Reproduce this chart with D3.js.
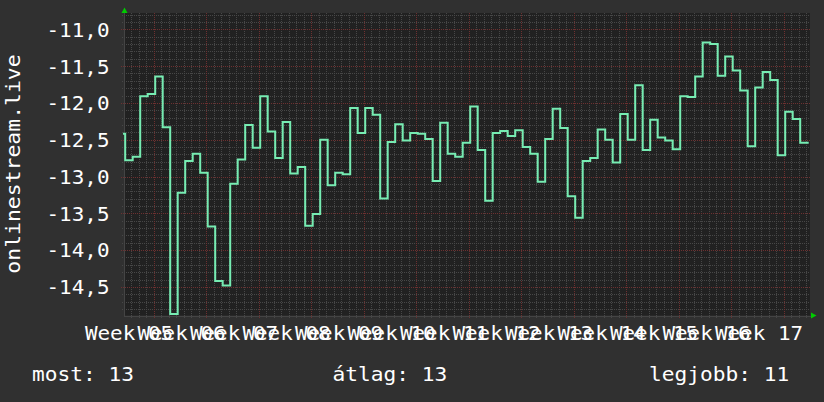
<!DOCTYPE html>
<html>
<head>
<meta charset="utf-8">
<script src="https://cdn.jsdelivr.net/npm/d3@7"></script>
<style>
  html, body { margin: 0; padding: 0; background: #303030; }
  svg { display: block; }
  text { font-family: "DejaVu Sans Mono", monospace; fill: #ffffff; }
</style>
</head>
<body>
<svg id="chart" width="824" height="402"></svg>
<script>
// ---- data ----
const seriesName = "onlinestream.live";
const weekLabels = ["Week 05","Week 06","Week 07","Week 08","Week 09","Week 10","Week 11",
                    "Week 12","Week 13","Week 14","Week 15","Week 16","Week 17"];
const yTickValues = [-11.0, -11.5, -12.0, -12.5, -13.0, -13.5, -14.0, -14.5];
// first value is the partial sample at the left edge, then one value per day
const values = [
  -12.42,
  -12.78, -12.73, -11.91, -11.88, -11.64, -12.33, -14.87, -13.22, -12.79, -12.69,
  -12.95, -13.68, -14.42, -14.48, -13.10, -12.77, -12.30, -12.61, -11.91, -12.39,
  -12.75, -12.26, -12.96, -12.87, -13.67, -13.51, -12.50, -13.12, -12.95, -12.97,
  -12.07, -12.41, -12.07, -12.16, -13.30, -12.53, -12.29, -12.51, -12.41, -12.42,
  -12.49, -13.06, -12.27, -12.69, -12.73, -12.54, -12.05, -12.64, -13.33, -12.41,
  -12.38, -12.45, -12.37, -12.60, -12.69, -13.07, -12.49, -12.08, -12.34, -13.27,
  -13.56, -12.79, -12.75, -12.36, -12.50, -12.81, -12.15, -12.50, -11.76, -12.64,
  -12.23, -12.47, -12.51, -12.63, -11.91, -11.92, -11.64, -11.18, -11.20, -11.63,
  -11.37, -11.56, -11.83, -12.59, -11.79, -11.58, -11.69, -12.71, -12.12, -12.22,
  -12.54
];
const legendItems = [
  { label: "most", value: "13" },
  { label: "átlag", value: "13" },
  { label: "legjobb", value: "11" }
];

// ---- layout ----
const plot = { left: 124, right: 810, top: 13, bottom: 315.5 };
const totalDays = 91.467;      // visible span in days
const sampleStart = 0.16;      // fraction of a day at which each daily sample begins
const firstWeekDay = 4;        // first week gridline (day index)
const advance = 12.6;          // stretched monospace advance

const svg = d3.select("#chart");

const x = d3.scaleLinear().domain([0, totalDays]).range([plot.left, plot.right]);
const y = d3.scaleLinear().domain([-14.889, -10.778]).range([plot.bottom, plot.top]);

// plot background
svg.append("rect")
  .attr("x", plot.left).attr("y", plot.top)
  .attr("width", plot.right - plot.left).attr("height", plot.bottom - plot.top)
  .attr("fill", "#212121");

const grid = svg.append("g").attr("shape-rendering", "crispEdges");

// minor horizontal grid (every 0.1)
const minorY = d3.range(-148, -107).map(k => k / 10).filter(v => Math.round(v * 10) % 5 !== 0);
grid.selectAll("line.my").data(minorY).join("line")
  .attr("x1", plot.left - 2).attr("x2", plot.right)
  .attr("y1", d => Math.round(y(d)) + 0.5).attr("y2", d => Math.round(y(d)) + 0.5)
  .attr("stroke", "#474747").attr("stroke-dasharray", "1,1");

// minor vertical grid (daily)
const minorX = d3.range(1, Math.floor(totalDays) + 1).filter(d => (d - firstWeekDay) % 7 !== 0);
grid.selectAll("line.mx").data(minorX).join("line")
  .attr("y1", plot.top).attr("y2", plot.bottom + 2)
  .attr("x1", d => Math.round(x(d)) + 0.5).attr("x2", d => Math.round(x(d)) + 0.5)
  .attr("stroke", "#474747").attr("stroke-dasharray", "1,1");

// major horizontal grid
grid.selectAll("line.My").data(yTickValues).join("line")
  .attr("x1", plot.left - 3).attr("x2", plot.right)
  .attr("y1", d => Math.round(y(d)) + 0.5).attr("y2", d => Math.round(y(d)) + 0.5)
  .attr("stroke", "#6e3030").attr("stroke-dasharray", "1,1");

// major vertical grid (weekly)
const weekDays = weekLabels.map((_, i) => firstWeekDay + 7 * i);
grid.selectAll("line.Mx").data(weekDays).join("line")
  .attr("y1", plot.top).attr("y2", plot.bottom + 3)
  .attr("x1", d => Math.round(x(d)) + 0.5).attr("x2", d => Math.round(x(d)) + 0.5)
  .attr("stroke", "#6e3030").attr("stroke-dasharray", "1,1");

// axes lines
grid.append("line")
  .attr("x1", plot.left + 0.5).attr("x2", plot.left + 0.5)
  .attr("y1", plot.top - 2).attr("y2", plot.bottom)
  .attr("stroke", "#444444");
grid.append("line")
  .attr("x1", plot.left).attr("x2", plot.right + 2)
  .attr("y1", Math.round(plot.bottom) + 0.5).attr("y2", Math.round(plot.bottom) + 0.5)
  .attr("stroke", "#444444");

// arrows
svg.append("path")
  .attr("d", `M${plot.left - 2.5},${plot.top} L${plot.left + 0.5},${plot.top - 5.5} L${plot.left + 3.5},${plot.top} Z`)
  .attr("fill", "#00cc00");
svg.append("path")
  .attr("d", `M${plot.right + 1},${plot.bottom - 3} L${plot.right + 6.5},${plot.bottom} L${plot.right + 1},${plot.bottom + 3} Z`)
  .attr("fill", "#00cc00");

// series (daily step line)
const pts = values.map((v, i) => ({ d: i === 0 ? 0 : sampleStart + (i - 1), v }));
pts.push({ d: sampleStart + (values.length - 1), v: values[values.length - 1] });
const line = d3.line().x(p => x(p.d)).y(p => y(p.v)).curve(d3.curveStepAfter);
svg.append("path")
  .datum(pts)
  .attr("d", line)
  .attr("fill", "none")
  .attr("stroke", "#76ecb2")
  .attr("stroke-width", 2)
  .attr("stroke-linejoin", "miter")
  .attr("stroke-linecap", "square");

// y tick labels
const fmt = v => v.toFixed(1).replace(".", ",");
svg.selectAll("text.ylab").data(yTickValues).join("text")
  .attr("x", 109.5).attr("y", d => y(d) + 7.4)
  .attr("text-anchor", "end")
  .attr("font-size", 20)
  .attr("textLength", d => fmt(d).length * advance)
  .attr("lengthAdjust", "spacingAndGlyphs")
  .text(fmt);

// x week labels
svg.selectAll("text.xlab").data(weekLabels).join("text")
  .attr("x", (d, i) => x(weekDays[i]) - 25)
  .attr("y", 340)
  .attr("text-anchor", "middle")
  .attr("font-size", 20)
  .attr("textLength", d => d.length * advance)
  .attr("lengthAdjust", "spacingAndGlyphs")
  .text(d => d);

// y title
svg.append("text")
  .attr("transform", "translate(20,164) rotate(-90)")
  .attr("text-anchor", "middle")
  .attr("font-size", 20)
  .attr("textLength", seriesName.length * 12.9)
  .attr("lengthAdjust", "spacingAndGlyphs")
  .text(seriesName);

// legend
const legendX = [32, 332.5, 649];
svg.selectAll("text.leg").data(legendItems).join("text")
  .attr("x", (d, i) => legendX[i])
  .attr("y", 381)
  .attr("font-size", 20)
  .attr("textLength", d => (d.label + ": " + d.value).length * 12.75)
  .attr("lengthAdjust", "spacingAndGlyphs")
  .text(d => d.label + ": " + d.value);
</script>
</body>
</html>
